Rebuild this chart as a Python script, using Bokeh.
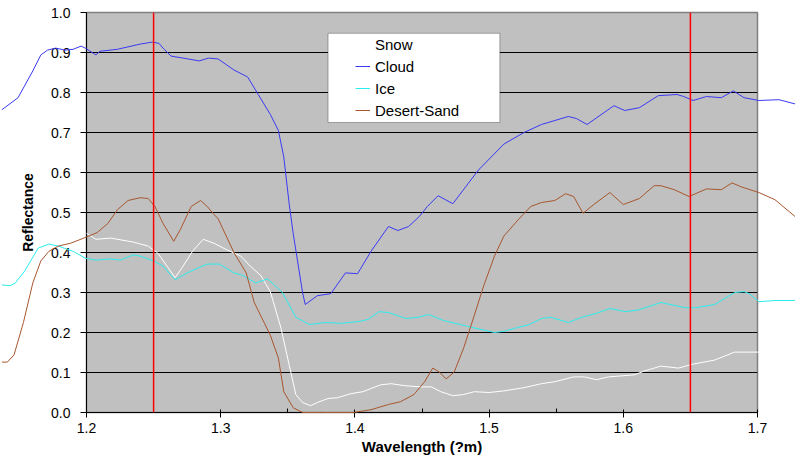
from bokeh.plotting import figure
from bokeh.models import (Range1d, FixedTicker, NumeralTickFormatter, Span,
                          BoxAnnotation, Legend, LegendItem)
from bokeh.embed import file_html
from bokeh.resources import INLINE

# ---------------- data ----------------
snow_wl = [1.200, 1.207, 1.218, 1.235, 1.246, 1.253, 1.260, 1.266, 1.272, 1.279,
           1.287, 1.295, 1.305, 1.315, 1.322, 1.330, 1.337, 1.345, 1.351, 1.356,
           1.361, 1.367, 1.372, 1.380, 1.387, 1.397, 1.406, 1.419, 1.427, 1.437,
           1.449, 1.457, 1.464, 1.473, 1.481, 1.489, 1.500, 1.511, 1.526, 1.539,
           1.549, 1.563, 1.571, 1.580, 1.589, 1.608, 1.616, 1.628, 1.641, 1.652,
           1.668, 1.683, 1.701]
snow_r = [0.448, 0.433, 0.436, 0.426, 0.416, 0.399, 0.366, 0.337, 0.366, 0.403,
          0.433, 0.423, 0.406, 0.391, 0.366, 0.342, 0.302, 0.210, 0.119, 0.045,
          0.025, 0.017, 0.025, 0.035, 0.037, 0.047, 0.052, 0.069, 0.072, 0.067,
          0.064, 0.064, 0.052, 0.042, 0.045, 0.052, 0.050, 0.054, 0.062, 0.072,
          0.077, 0.089, 0.089, 0.082, 0.089, 0.094, 0.104, 0.116, 0.111, 0.121,
          0.131, 0.151, 0.151]

cloud_wl = [1.137, 1.149, 1.160, 1.166, 1.171, 1.177, 1.184, 1.190, 1.196, 1.199,
            1.207, 1.210, 1.223, 1.240, 1.249, 1.254, 1.257, 1.263, 1.272, 1.284,
            1.291, 1.298, 1.310, 1.320, 1.328, 1.337, 1.343, 1.347, 1.351, 1.354,
            1.361, 1.363, 1.372, 1.382, 1.393, 1.402, 1.412, 1.425, 1.432, 1.440,
            1.448, 1.454, 1.462, 1.473, 1.492, 1.511, 1.526, 1.539, 1.559, 1.565,
            1.573, 1.593, 1.601, 1.612, 1.626, 1.640, 1.645, 1.652, 1.662, 1.673,
            1.682, 1.690, 1.701, 1.716, 1.733, 1.740]
cloud_r = [0.757, 0.787, 0.854, 0.894, 0.906, 0.911, 0.906, 0.908, 0.916, 0.911,
           0.894, 0.903, 0.908, 0.921, 0.926, 0.923, 0.911, 0.891, 0.886, 0.879,
           0.886, 0.884, 0.856, 0.839, 0.795, 0.745, 0.705, 0.639, 0.522, 0.448,
           0.300, 0.270, 0.292, 0.297, 0.349, 0.347, 0.403, 0.465, 0.455, 0.465,
           0.490, 0.515, 0.542, 0.522, 0.606, 0.671, 0.700, 0.720, 0.740, 0.735,
           0.720, 0.767, 0.755, 0.762, 0.792, 0.795, 0.790, 0.780, 0.790, 0.787,
           0.804, 0.787, 0.780, 0.782, 0.767, 0.762]

ice_wl = [1.137, 1.143, 1.147, 1.154, 1.164, 1.172, 1.179, 1.190, 1.199, 1.207,
          1.218, 1.225, 1.235, 1.240, 1.250, 1.257, 1.266, 1.275, 1.285, 1.290,
          1.299, 1.310, 1.317, 1.326, 1.335, 1.346, 1.356, 1.366, 1.378, 1.390,
          1.404, 1.410, 1.418, 1.425, 1.438, 1.447, 1.455, 1.466, 1.487, 1.504,
          1.511, 1.522, 1.530, 1.539, 1.546, 1.559, 1.569, 1.580, 1.590, 1.602,
          1.612, 1.628, 1.646, 1.654, 1.668, 1.683, 1.690, 1.694, 1.701, 1.713,
          1.728, 1.740]
ice_r = [0.319, 0.317, 0.324, 0.354, 0.411, 0.421, 0.416, 0.403, 0.386, 0.381,
         0.384, 0.381, 0.394, 0.391, 0.379, 0.366, 0.332, 0.349, 0.364, 0.371,
         0.371, 0.349, 0.342, 0.324, 0.334, 0.300, 0.238, 0.220, 0.225, 0.223,
         0.228, 0.233, 0.252, 0.250, 0.235, 0.238, 0.245, 0.230, 0.213, 0.200,
         0.203, 0.213, 0.220, 0.235, 0.238, 0.225, 0.238, 0.248, 0.260, 0.252,
         0.257, 0.275, 0.262, 0.262, 0.270, 0.300, 0.302, 0.297, 0.277, 0.280,
         0.280, 0.297]

sand_wl = [1.137, 1.141, 1.146, 1.153, 1.160, 1.166, 1.172, 1.179, 1.188, 1.198,
           1.208, 1.216, 1.223, 1.231, 1.240, 1.246, 1.251, 1.257, 1.265, 1.270,
           1.278, 1.285, 1.290, 1.295, 1.298, 1.310, 1.319, 1.325, 1.337, 1.343,
           1.347, 1.354, 1.361, 1.375, 1.399, 1.412, 1.425, 1.434, 1.444, 1.452,
           1.458, 1.463, 1.468, 1.474, 1.481, 1.489, 1.496, 1.504, 1.511, 1.522,
           1.531, 1.539, 1.549, 1.557, 1.563, 1.570, 1.578, 1.590, 1.600, 1.612,
           1.623, 1.628, 1.638, 1.649, 1.662, 1.673, 1.681, 1.688, 1.701, 1.713,
           1.728, 1.740]
sand_r = [0.126, 0.126, 0.144, 0.225, 0.324, 0.379, 0.403, 0.416, 0.423, 0.436,
          0.450, 0.473, 0.507, 0.530, 0.537, 0.535, 0.515, 0.473, 0.428, 0.458,
          0.515, 0.530, 0.515, 0.495, 0.485, 0.399, 0.349, 0.275, 0.193, 0.136,
          0.052, 0.012, 0.000, 0.000, 0.000, 0.007, 0.020, 0.027, 0.045, 0.077,
          0.111, 0.101, 0.084, 0.101, 0.161, 0.243, 0.317, 0.391, 0.441, 0.483,
          0.515, 0.525, 0.530, 0.547, 0.540, 0.498, 0.520, 0.550, 0.520, 0.535,
          0.567, 0.567, 0.557, 0.540, 0.559, 0.557, 0.574, 0.564, 0.550, 0.532,
          0.490, 0.470]

x_ticks = [1.2, 1.3, 1.4, 1.5, 1.6, 1.7]
x_minor = [1.25, 1.35, 1.45, 1.55, 1.65]
y_ticks = [0.0, 0.1, 0.2, 0.3, 0.4, 0.5, 0.6, 0.7, 0.8, 0.9, 1.0]
red_lines = [1.25, 1.65]
series_names = ["Snow", "Cloud", "Ice", "Desert-Sand"]
legend_box = dict(left=1.380, right=1.508, top=0.948, bottom=0.725)

FONT = "Liberation Sans"

p = figure(width=795, height=457, x_range=Range1d(1.2, 1.7), y_range=Range1d(0, 1.0),
           output_backend="svg", toolbar_location=None,
           min_border_left=86, min_border_right=38, min_border_top=12, min_border_bottom=45)

p.background_fill_color = "#C0C0C0"
p.border_fill_color = "white"
p.outline_line_color = "#808080"
p.outline_line_width = 1.5

p.xgrid.visible = False
p.ygrid.ticker = FixedTicker(ticks=y_ticks)
p.ygrid.grid_line_color = "black"
p.ygrid.grid_line_width = 1

# x axis
xa = p.xaxis[0]
xa.ticker = FixedTicker(ticks=x_ticks, minor_ticks=x_minor)
xa.formatter = NumeralTickFormatter(format="0.0")
xa.axis_line_color = "black"
xa.major_tick_line_color = "black"
xa.minor_tick_line_color = "black"
xa.major_tick_in = 3
xa.major_tick_out = 5
xa.minor_tick_in = 4
xa.minor_tick_out = 0
xa.major_label_standoff = 5
xa.major_label_text_font = FONT
xa.major_label_text_font_size = "14px"
xa.major_label_text_color = "black"
xa.axis_label = "Wavelength (?m)"
xa.axis_label_text_font = FONT
xa.axis_label_text_font_style = "bold"
xa.axis_label_text_font_size = "15px"
xa.axis_label_text_color = "black"
xa.axis_label_standoff = 2

# y axis
ya = p.yaxis[0]
ya.ticker = FixedTicker(ticks=y_ticks)
ya.formatter = NumeralTickFormatter(format="0.0")
ya.axis_line_color = "black"
ya.major_tick_line_color = "black"
ya.major_tick_in = 0
ya.major_tick_out = 6
ya.minor_tick_line_color = None
ya.major_label_standoff = 10
ya.major_label_text_font = FONT
ya.major_label_text_font_size = "14px"
ya.major_label_text_color = "black"
ya.axis_label = "Reflectance"
ya.axis_label_text_font = FONT
ya.axis_label_text_font_style = "bold"
ya.axis_label_text_font_size = "14px"
ya.axis_label_text_color = "black"
ya.axis_label_standoff = 12

# red reference lines
for loc in red_lines:
    p.add_layout(Span(location=loc, dimension="height", line_color="red", line_width=1.5))

# legend background box
p.add_layout(BoxAnnotation(left=legend_box["left"], right=legend_box["right"],
                           top=legend_box["top"], bottom=legend_box["bottom"],
                           fill_color="white", fill_alpha=1.0,
                           line_color="black", line_width=1))

# series (drawn at annotation level so they run past the plot area like the original)
r_snow = p.line(snow_wl, snow_r, line_color="white", line_width=1, level="annotation")
r_cloud = p.line(cloud_wl, cloud_r, line_color="#3A3AF5", line_width=1, level="annotation")
r_ice = p.line(ice_wl, ice_r, line_color="#2CEDED", line_width=1, level="annotation")
r_sand = p.line(sand_wl, sand_r, line_color="#A8562E", line_width=1, level="annotation")

legend = Legend(items=[LegendItem(label=n, renderers=[r]) for n, r in
                       zip(series_names, [r_snow, r_cloud, r_ice, r_sand])],
                location=(269, 292), orientation="vertical",
                padding=0, margin=0, spacing=2,
                glyph_width=15, glyph_height=20, label_height=20, label_standoff=5,
                label_text_font=FONT, label_text_font_size="15px", label_text_color="black",
                border_line_alpha=0, background_fill_alpha=0)
p.add_layout(legend, "center")

open("out.html", "w").write(file_html(p, INLINE))
